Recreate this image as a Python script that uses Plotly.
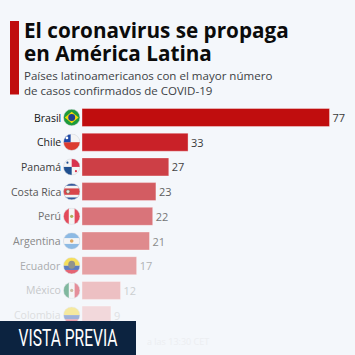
import base64
import plotly.graph_objects as go

countries = ["Brasil", "Chile", "Panamá", "Costa Rica", "Perú", "Argentina", "Ecuador", "México", "Colombia"]
cases = [77, 33, 27, 23, 22, 21, 17, 12, 9]
bar_colors = ["#c00d0e", "#c92128", "#cd3f46", "#d35c62", "#d9747a", "#df8a8d", "#e5a0a3", "#edc0c3", "#f2d8db"]
label_colors = ["#111111", "#1c1c1c", "#3b3b3b", "#555555", "#6e6e6e", "#888888", "#a9abad", "#c6c8ca", "#dcdee0"]
value_colors = ["#3a3a3a", "#3a3a3a", "#444444", "#5e5e5e", "#757575", "#8a8a8a", "#b0b2b4", "#cbced0", "#dfe1e3"]
flag_opacity = [1, 1, 1, 0.95, 0.9, 0.8, 0.7, 0.5, 0.4]

title_lines = ["El coronavirus se propaga", "en América Latina"]
subtitle_lines = ["Países latinoamericanos con el mayor número", "de casos confirmados de COVID-19"]
badge_text = "VISTA PREVIA"
ghost_text = "a las 13:30 CET"

BG = "#f4f7fb"


def svg(body):
    s = ('<svg xmlns="http://www.w3.org/2000/svg" viewBox="0 0 32 32"><defs><clipPath id="c">'
         '<circle cx="16" cy="16" r="15.5"/></clipPath></defs><g clip-path="url(#c)">' + body +
         '</g><circle cx="16" cy="16" r="15.5" fill="none" stroke="#cfd4da" stroke-width="1"/></svg>')
    return "data:image/svg+xml;base64," + base64.b64encode(s.encode()).decode()


def r(x, y, w, h, c):
    return f'<rect x="{x}" y="{y}" width="{w}" height="{h}" fill="{c}"/>'


flags = [
    r(0, 0, 32, 32, "#1c9a3c") + '<polygon points="16,5 29,16 16,27 3,16" fill="#f5d90a"/><circle cx="16" cy="16" r="6.5" fill="#1f3f8f"/>',
    r(0, 0, 32, 16, "#f4f4f4") + r(0, 16, 32, 16, "#dc3c30") + r(0, 0, 14, 16, "#1f4aa8") + '<circle cx="7" cy="8" r="2.6" fill="#fff"/>',
    r(0, 0, 32, 32, "#f4f4f4") + r(16, 0, 16, 16, "#d8324c") + r(0, 16, 16, 16, "#1f4f8f") + '<circle cx="8" cy="8" r="2" fill="#1f4f8f"/><circle cx="24" cy="24" r="2" fill="#d8324c"/>',
    r(0, 0, 32, 32, "#2a4f96") + r(0, 5, 32, 22, "#f4f4f4") + r(0, 10, 32, 12, "#d83c42") + '<circle cx="9" cy="16" r="3.4" fill="#e8e8e0" stroke="#556b4a"/>',
    r(0, 0, 32, 32, "#f4f4f4") + r(0, 0, 10.5, 32, "#e2384a") + r(21.5, 0, 10.5, 32, "#e2384a") + '<circle cx="16" cy="16" r="3" fill="#a8a848"/>',
    r(0, 0, 32, 32, "#74acdf") + r(0, 10.5, 32, 11, "#f4f4f4") + '<circle cx="16" cy="16" r="3.4" fill="#d9923c"/>',
    r(0, 0, 32, 16, "#f7d618") + r(0, 16, 32, 8, "#1f4aa8") + r(0, 24, 32, 8, "#e0283c") + '<ellipse cx="16" cy="14" rx="6.5" ry="7.5" fill="#6b6b5c"/>',
    r(0, 0, 32, 32, "#f4f4f4") + r(0, 0, 10.5, 32, "#0f7a45") + r(21.5, 0, 10.5, 32, "#d8283c") + '<circle cx="16" cy="16" r="3" fill="#a5814a"/>',
    r(0, 0, 32, 16, "#f7d618") + r(0, 16, 32, 8, "#1f4aa8") + r(0, 24, 32, 8, "#e0283c"),
]

fig = go.Figure(go.Bar(
    y=countries, x=cases, orientation="h",
    marker=dict(color=bar_colors, line=dict(width=1, color="rgba(255,255,255,0.35)")),
    text=cases, textposition="outside", cliponaxis=False,
    textfont=dict(family="Open Sans", size=11, color=value_colors),
    width=0.73, hoverinfo="skip",
))

images = []
annotations = []
for i, c in enumerate(countries):
    images.append(dict(source=svg(flags[i]), xref="paper", yref="y", x=71.7 / 355, y=c,
                       sizex=17 / 355, sizey=17 / 24.7, sizing="contain", xanchor="center", yanchor="middle",
                       opacity=flag_opacity[i], layer="above"))
    annotations.append(dict(text=c, xref="x", yref="y", x=0, y=c, xshift=-19, showarrow=False, xanchor="right",
                            yanchor="middle", font=dict(family="Open Sans", size=10.5, color=label_colors[i])))


def page_text(text, px, py, size, color, family="Open Sans", bold=False, anchor="left"):
    t = f"<b>{text}</b>" if bold else text
    annotations.append(dict(text=t, xref="paper", yref="paper", x=px / 355, y=1 - py / 355, showarrow=False,
                            xanchor=anchor, yanchor="middle", xshift=0,
                            font=dict(family=family, size=size, color=color)))


page_text(title_lines[0], 21.5, 29.5, 20.7, "#0b0b0b", bold=True)
page_text(title_lines[1], 21.5, 53, 20.7, "#0b0b0b", bold=True)
page_text(subtitle_lines[0], 22, 76, 11.55, "#3c3f44")
page_text(subtitle_lines[1], 22, 90, 11.55, "#3c3f44")
page_text(ghost_text, 178, 341, 9, "#eceef1", anchor="center")
page_text(badge_text, 68, 338, 23, "#ffffff", family="Roboto", anchor="center")

shapes = [
    dict(type="rect", xref="paper", yref="paper", x0=10 / 355, x1=19 / 355, y0=1 - 94.5 / 355, y1=1 - 21 / 355,
         fillcolor="#c00d0e", line_width=0, layer="above"),
    dict(type="rect", xref="paper", yref="paper", x0=0, x1=136 / 355, y0=0, y1=1 - 321 / 355,
         fillcolor="#0c2340", line_width=0, layer="above"),
]

fig.update_layout(
    width=355, height=355, autosize=False,
    margin=dict(l=0, r=0, t=0, b=0),
    paper_bgcolor=BG, plot_bgcolor=BG, showlegend=False,
    xaxis=dict(domain=[82 / 355, 1], range=[0, 273 / 3.214], visible=False, fixedrange=True),
    yaxis=dict(domain=[0, 1 - 105.7 / 355], range=[9.615, -0.478], visible=False, type="category",
               categoryorder="array", categoryarray=countries, fixedrange=True, anchor="x"),
    images=images, annotations=annotations, shapes=shapes,
)
post = """
document.documentElement.style.overflow='hidden';
document.body.style.margin='0';
document.body.style.background='%s';
function squeeze(){
  document.querySelectorAll('.annotation-text').forEach(function(t){
    if(t.textContent==='%s'){
      t.setAttribute('textLength','99');
      t.setAttribute('lengthAdjust','spacingAndGlyphs');
    }
  });
}
squeeze(); setTimeout(squeeze,50); setTimeout(squeeze,300);
""" % (BG, badge_text)
fig.write_html("out.html", config=dict(displayModeBar=False), post_script=post)
